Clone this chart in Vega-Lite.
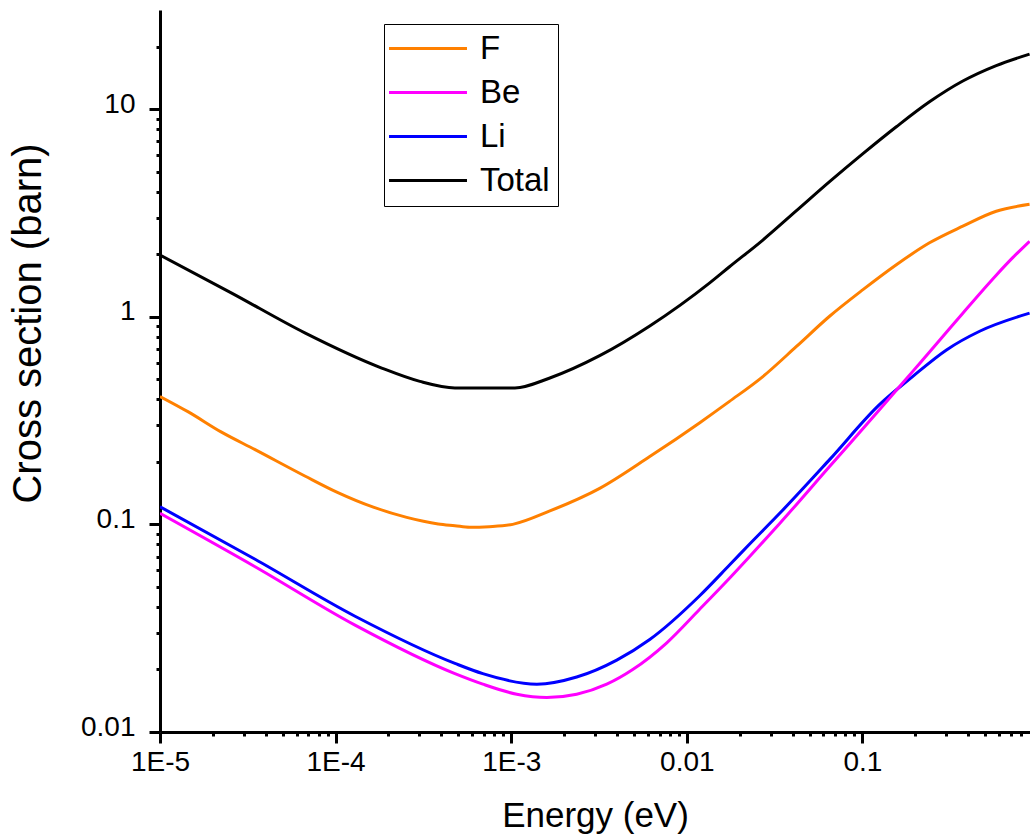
{
  "$schema": "https://vega.github.io/schema/vega-lite/v6.json",
  "width": 870,
  "height": 722,
  "autosize": {"type": "none"},
  "padding": {"left": 160, "top": 10, "right": 0, "bottom": 102},
  "background": "white",
  "config": {"view": {"stroke": null}, "font": "Liberation Sans"},
  "data": {
    "values": [
      {"s": "Total", "E": 0.00001, "c": 1.98},
      {"s": "Total", "E": 0.0000256, "c": 1.30},
      {"s": "Total", "E": 0.0000668, "c": 0.836},
      {"s": "Total", "E": 0.000183, "c": 0.566},
      {"s": "Total", "E": 0.000302, "c": 0.488},
      {"s": "Total", "E": 0.000478, "c": 0.454},
      {"s": "Total", "E": 0.00105, "c": 0.454},
      {"s": "Total", "E": 0.00166, "c": 0.507},
      {"s": "Total", "E": 0.00319, "c": 0.649},
      {"s": "Total", "E": 0.00615, "c": 0.902},
      {"s": "Total", "E": 0.0135, "c": 1.455},
      {"s": "Total", "E": 0.0175, "c": 1.74},
      {"s": "Total", "E": 0.0271, "c": 2.34},
      {"s": "Total", "E": 0.0421, "c": 3.24},
      {"s": "Total", "E": 0.065, "c": 4.47},
      {"s": "Total", "E": 0.1007, "c": 6.10},
      {"s": "Total", "E": 0.156, "c": 8.22},
      {"s": "Total", "E": 0.241, "c": 10.84},
      {"s": "Total", "E": 0.373, "c": 13.65},
      {"s": "Total", "E": 0.578, "c": 16.2},
      {"s": "Total", "E": 0.895, "c": 18.4},

      {"s": "F", "E": 0.00001, "c": 0.413},
      {"s": "F", "E": 0.0000145, "c": 0.348},
      {"s": "F", "E": 0.0000224, "c": 0.278},
      {"s": "F", "E": 0.0000348, "c": 0.229},
      {"s": "F", "E": 0.0000668, "c": 0.171},
      {"s": "F", "E": 0.0001016, "c": 0.143},
      {"s": "F", "E": 0.000164, "c": 0.121},
      {"s": "F", "E": 0.000254, "c": 0.108},
      {"s": "F", "E": 0.000384, "c": 0.1005},
      {"s": "F", "E": 0.000478, "c": 0.0985},
      {"s": "F", "E": 0.000581, "c": 0.0968},
      {"s": "F", "E": 0.00075, "c": 0.0975},
      {"s": "F", "E": 0.00102, "c": 0.100},
      {"s": "F", "E": 0.00166, "c": 0.116},
      {"s": "F", "E": 0.00319, "c": 0.149},
      {"s": "F", "E": 0.00615, "c": 0.212},
      {"s": "F", "E": 0.0118, "c": 0.308},
      {"s": "F", "E": 0.0175, "c": 0.391},
      {"s": "F", "E": 0.0271, "c": 0.515},
      {"s": "F", "E": 0.0421, "c": 0.719},
      {"s": "F", "E": 0.065, "c": 1.005},
      {"s": "F", "E": 0.1007, "c": 1.35},
      {"s": "F", "E": 0.156, "c": 1.78},
      {"s": "F", "E": 0.241, "c": 2.27},
      {"s": "F", "E": 0.373, "c": 2.73},
      {"s": "F", "E": 0.578, "c": 3.22},
      {"s": "F", "E": 0.895, "c": 3.48},

      {"s": "Li", "E": 0.00001, "c": 0.1216},
      {"s": "Li", "E": 0.0000348, "c": 0.0679},
      {"s": "Li", "E": 0.000129, "c": 0.0361},
      {"s": "Li", "E": 0.000478, "c": 0.0214},
      {"s": "Li", "E": 0.000689, "c": 0.0191},
      {"s": "Li", "E": 0.0014, "c": 0.0170},
      {"s": "Li", "E": 0.00236, "c": 0.0184},
      {"s": "Li", "E": 0.00399, "c": 0.0222},
      {"s": "Li", "E": 0.00615, "c": 0.0279},
      {"s": "Li", "E": 0.0118, "c": 0.0452},
      {"s": "Li", "E": 0.0175, "c": 0.0637},
      {"s": "Li", "E": 0.0228, "c": 0.0804},
      {"s": "Li", "E": 0.0338, "c": 0.113},
      {"s": "Li", "E": 0.065, "c": 0.205},
      {"s": "Li", "E": 0.125, "c": 0.377},
      {"s": "Li", "E": 0.193, "c": 0.515},
      {"s": "Li", "E": 0.301, "c": 0.692},
      {"s": "Li", "E": 0.465, "c": 0.851},
      {"s": "Li", "E": 0.895, "c": 1.04},

      {"s": "Be", "E": 0.00001, "c": 0.113},
      {"s": "Be", "E": 0.0000348, "c": 0.0625},
      {"s": "Be", "E": 0.000129, "c": 0.0327},
      {"s": "Be", "E": 0.000478, "c": 0.0191},
      {"s": "Be", "E": 0.000689, "c": 0.0170},
      {"s": "Be", "E": 0.001076, "c": 0.0152},
      {"s": "Be", "E": 0.001596, "c": 0.01466},
      {"s": "Be", "E": 0.00236, "c": 0.0152},
      {"s": "Be", "E": 0.0035, "c": 0.0170},
      {"s": "Be", "E": 0.00492, "c": 0.0200},
      {"s": "Be", "E": 0.00769, "c": 0.0269},
      {"s": "Be", "E": 0.0118, "c": 0.0389},
      {"s": "Be", "E": 0.0175, "c": 0.0550},
      {"s": "Be", "E": 0.0228, "c": 0.0700},
      {"s": "Be", "E": 0.0338, "c": 0.101},
      {"s": "Be", "E": 0.065, "c": 0.190},
      {"s": "Be", "E": 0.125, "c": 0.356},
      {"s": "Be", "E": 0.156, "c": 0.442},
      {"s": "Be", "E": 0.194, "c": 0.547},
      {"s": "Be", "E": 0.241, "c": 0.676},
      {"s": "Be", "E": 0.300, "c": 0.839},
      {"s": "Be", "E": 0.373, "c": 1.04},
      {"s": "Be", "E": 0.578, "c": 1.585},
      {"s": "Be", "E": 0.72, "c": 1.93},
      {"s": "Be", "E": 0.895, "c": 2.31}
    ]
  },
  "layer": [
    {
      "mark": {"type": "line", "interpolate": "monotone", "strokeWidth": 3, "clip": true},
      "encoding": {
        "x": {
          "field": "E", "type": "quantitative",
          "scale": {"type": "log", "domain": [0.00001, 0.9], "nice": false},
          "axis": {
            "orient": "bottom",
            "values": [0.00001, 0.0001, 0.001, 0.01, 0.1],
            "labelExpr": "datum.value < 0.00005 ? '1E-5' : datum.value < 0.0005 ? '1E-4' : datum.value < 0.005 ? '1E-3' : datum.value < 0.05 ? '0.01' : '0.1'",
            "grid": false,
            "domainColor": "black", "domainWidth": 3,
            "tickColor": "black", "tickWidth": 3, "tickSize": 11,
            "labelFont": "Liberation Sans", "labelFontSize": 28, "labelColor": "black", "labelPadding": 5,
            "labelFlush": false, "labelOverlap": false,
            "title": "Energy (eV)",
            "titleFont": "Liberation Sans", "titleFontSize": 35, "titleFontWeight": "normal", "titleColor": "black",
            "titleX": 435, "titleY": 94, "titleBaseline": "alphabetic", "titleAlign": "center"
          }
        },
        "y": {
          "field": "c", "type": "quantitative",
          "scale": {"type": "log", "domain": [0.01, 30], "nice": false},
          "axis": {
            "orient": "left",
            "values": [0.01, 0.1, 1, 10],
            "labelExpr": "datum.value < 0.05 ? '0.01' : datum.value < 0.5 ? '0.1' : datum.value < 5 ? '1' : '10'",
            "grid": false,
            "domainColor": "black", "domainWidth": 3,
            "tickColor": "black", "tickWidth": 3, "tickSize": 11,
            "labelFont": "Liberation Sans", "labelFontSize": 28, "labelColor": "black", "labelPadding": 14,
            "labelOffset": -5, "labelFlush": false, "labelOverlap": false,
            "title": "Cross section (barn)",
            "titleFont": "Liberation Sans", "titleFontSize": 40, "titleFontWeight": "normal", "titleColor": "black",
            "titleX": -132, "titleY": 313, "titleAngle": -90, "titleBaseline": "middle", "titleAlign": "center"
          }
        },
        "color": {
          "field": "s", "type": "nominal",
          "scale": {"domain": ["F", "Be", "Li", "Total"], "range": ["#FF8000", "#FF00FF", "#0000FF", "#000000"]},
          "legend": {
            "orient": "none", "legendX": 224, "legendY": 14,
            "title": null,
            "symbolType": "M-2,0H6", "symbolSize": 380, "symbolStrokeWidth": 3,
            "labelFont": "Liberation Sans", "labelFontSize": 33, "labelColor": "black",
            "labelOffset": 55, "labelLimit": 300,
            "padding": 8, "rowPadding": 10,
            "strokeColor": "black", "fillColor": "white"
          }
        }
      }
    },
    {
      "mark": {"type": "line", "opacity": 0},
      "encoding": {
        "x": {
          "field": "E", "type": "quantitative",
          "axis": {
            "orient": "bottom",
            "values": [0.00002, 0.00003, 0.00004, 0.00005, 0.00006, 0.00007, 0.00008, 0.00009,
                       0.0002, 0.0003, 0.0004, 0.0005, 0.0006, 0.0007, 0.0008, 0.0009,
                       0.002, 0.003, 0.004, 0.005, 0.006, 0.007, 0.008, 0.009,
                       0.02, 0.03, 0.04, 0.05, 0.06, 0.07, 0.08, 0.09,
                       0.2, 0.3, 0.4, 0.5, 0.6, 0.7, 0.8],
            "labels": false, "domain": false, "grid": false, "title": null,
            "tickColor": "black", "tickWidth": 3, "tickSize": 4
          }
        },
        "y": {
          "field": "c", "type": "quantitative",
          "axis": {
            "orient": "left",
            "values": [0.02, 0.03, 0.04, 0.05, 0.06, 0.07, 0.08, 0.09,
                       0.2, 0.3, 0.4, 0.5, 0.6, 0.7, 0.8, 0.9,
                       2, 3, 4, 5, 6, 7, 8, 9, 20],
            "labels": false, "domain": false, "grid": false, "title": null,
            "tickColor": "black", "tickWidth": 3, "tickSize": 4
          }
        }
      }
    }
  ],
  "resolve": {"axis": {"x": "independent", "y": "independent"}}
}
